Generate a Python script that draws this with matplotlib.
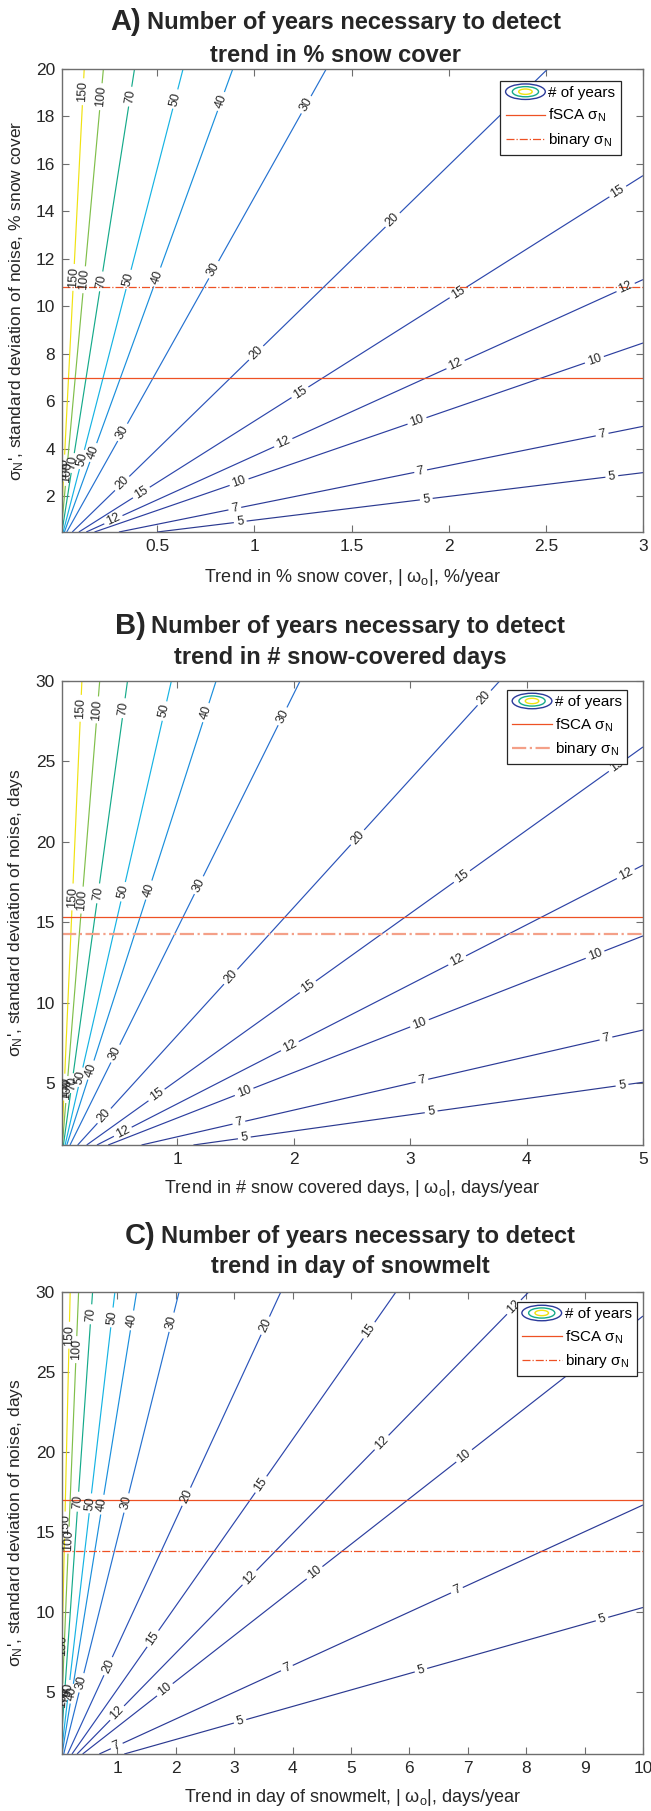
import numpy as np
import matplotlib
matplotlib.use("Agg")
import matplotlib.pyplot as plt
from matplotlib.legend_handler import HandlerBase
from matplotlib.patches import Ellipse
from matplotlib.lines import Line2D

plt.rcParams['font.family'] = ['Liberation Sans', 'DejaVu Sans']
plt.rcParams['mathtext.fontset'] = 'custom'
plt.rcParams['mathtext.rm'] = 'Liberation Sans'
plt.rcParams['mathtext.it'] = 'Liberation Sans'
plt.rcParams['mathtext.bf'] = 'Liberation Sans:bold'

# ---------------- data ----------------
levels = [5, 7, 10, 12, 15, 20, 30, 40, 50, 70, 100, 150]   # number of years
# noise per unit trend (sigma_N / |omega|) along each contour, read per panel
slopes_A = [1.0, 1.65, 2.82, 3.71, 5.17, 7.97, 14.6, 22.5, 31.6, 52.2, 89.7, 161]
slopes_B = [1.01, 1.66, 2.83, 3.71, 5.18, 7.96, 14.6, 22.5, 31.6, 52.4, 89.9, 166]
slopes_C = [1.03, 1.67, 2.85, 3.73, 5.2, 7.9, 14.6, 22.6, 31.4, 52.3, 89.8, 158]
fsca_sigma = [6.98, 15.3, 17.0]
binary_sigma = [10.8, 14.27, 13.85]
xlim_A, ylim_A = (0.01, 3.0), (0.5, 20.0)
xlim_B, ylim_B = (0.01, 5.0), (1.15, 30.0)
xlim_C, ylim_C = (0.05, 10.0), (1.15, 30.0)
xticks_A, yticks_A = [0.5, 1, 1.5, 2, 2.5, 3], [2, 4, 6, 8, 10, 12, 14, 16, 18, 20]
xticks_B, yticks_B = [1, 2, 3, 4, 5], [5, 10, 15, 20, 25, 30]
xticks_C, yticks_C = [1, 2, 3, 4, 5, 6, 7, 8, 9, 10], [5, 10, 15, 20, 25, 30]

# ---------------- styles ----------------
line_colors = ['#2b3990', '#2b3a97', '#2c3e9f', '#2c41a4', '#2d46ab', '#2b53b9',
               '#2571d0', '#1a8fdc', '#16b3e3', '#15aa8a', '#80bf4a', '#f0e210']
red = '#ee5124'
salmon = '#f4a088'

# label anchor points (x, y) per level for each panel
labels_A = {
    5: [(0.928, 0.876), (1.885, 1.86), (2.84, 2.81)],
    7: [(0.90, 1.46), (1.856, 3.05), (2.79, 4.59)],
    10: [(0.92, 2.63), (1.84, 5.11), (2.75, 7.75)],
    12: [(0.275, 1.01), (1.15, 4.24), (2.036, 7.54), (2.91, 10.81)],
    15: [(0.42, 2.14), (1.237, 6.35), (2.045, 10.63), (2.87, 14.84)],
    20: [(0.326, 2.49), (1.01, 8.03), (1.72, 13.57)],
    30: [(0.33, 4.66), (0.79, 11.55), (1.27, 18.48)],
    40: [(0.18, 3.82), (0.507, 11.22), (0.833, 18.62)],
    50: [(0.12, 3.54), (0.36, 11.12), (0.60, 18.72)],
    70: [(0.07, 3.4), (0.215, 11.05), (0.366, 18.83)],
    100: [(0.045, 3.0), (0.129, 11.12), (0.215, 18.83)],
    150: [(0.03, 3.19), (0.077, 11.22), (0.124, 19.04)],
}
labels_B = {
    5: [(1.575, 1.64), (3.18, 3.24), (4.82, 4.86)],
    7: [(1.526, 2.64), (3.1, 5.17), (4.68, 7.83)],
    10: [(1.575, 4.44), (3.08, 8.73), (4.59, 12.95)],
    12: [(0.526, 2.06), (1.963, 7.35), (3.4, 12.68), (4.85, 18.03)],
    15: [(0.814, 4.34), (2.12, 11.0), (3.443, 17.86), (4.78, 24.7)],
    20: [(0.368, 2.99), (1.46, 11.6), (2.552, 20.25), (3.644, 28.9)],
    30: [(0.469, 6.83), (1.187, 17.3), (1.905, 27.8)],
    40: [(0.267, 5.79), (0.756, 17.0), (1.259, 28.0)],
    50: [(0.167, 5.37), (0.54, 16.89), (0.909, 28.1)],
    70: [(0.09, 5.0), (0.325, 16.79), (0.549, 28.3)],
    100: [(0.05, 4.6), (0.196, 16.37), (0.319, 28.2)],
    150: [(0.03, 4.75), (0.109, 16.57), (0.181, 28.3)],
}
labels_C = {
    5: [(3.1, 3.19), (6.2, 6.35), (9.3, 9.55)],
    7: [(0.99, 1.63), (3.9, 6.52), (6.81, 11.4)],
    10: [(1.789, 5.27), (4.36, 12.54), (6.93, 19.8), (9.5, 27.1)],
    12: [(0.962, 3.82), (3.27, 12.13), (5.58, 20.4), (7.89, 28.7)],
    15: [(1.59, 8.39), (3.47, 17.95), (5.35, 27.5)],
    20: [(0.848, 6.62), (2.19, 17.2), (3.53, 27.9)],
    30: [(0.39, 5.59), (1.18, 16.8), (1.94, 28.1)],
    40: [(0.25, 4.9), (0.774, 16.7), (1.293, 28.2)],
    50: [(0.136, 5.17), (0.546, 16.8), (0.933, 28.4)],
    70: [(0.1, 4.8), (0.346, 16.9), (0.574, 28.6)],
    100: [(0.07, 4.7), (0.192, 14.5), (0.317, 26.4)],
    150: [(0.06, 4.6), (0.136, 15.45), (0.192, 27.3)],
}

W, H = 651, 1811
fig = plt.figure(figsize=(W / 100, H / 100), dpi=100)


class ContourIcon:
    pass


class ContourIconHandler(HandlerBase):
    def create_artists(self, legend, orig_handle, xdescent, ydescent, width,
                       height, fontsize, trans):
        cx = width / 2 - xdescent
        cy = height / 2 - ydescent
        arts = []
        for fw, fh, c in [(1.0, 1.45, '#2b3a9a'), (0.66, 0.95, '#15aa8a'),
                          (0.34, 0.5, '#f0e210')]:
            arts.append(Ellipse((cx, cy), width * fw, height * fh, fill=False,
                                edgecolor=c, linewidth=1.0, transform=trans))
        return arts


panels = [
    dict(box=(62, 69, 643, 532), xlim=xlim_A, ylim=ylim_A, xt=xticks_A, yt=yticks_A,
         slopes=slopes_A, labels=labels_A, fsca=fsca_sigma[0], binary=binary_sigma[0],
         bcol=red, blw=0.9, prefix='A)', t1='Number of years necessary to detect',
         t2='trend in % snow cover', tcx=336, tb1=29.5, tb2=61.5,
         xlabel='Trend in % snow cover, | ω$_{\\mathrm{o}}$|, %/year',
         ylabel="σ$_{\\mathrm{N}}$', standard deviation of noise, % snow cover",
         xly=577, yly=16.5, leg=(620.7, 80.7)),
    dict(box=(62, 681, 643, 1145), xlim=xlim_B, ylim=ylim_B, xt=xticks_B, yt=yticks_B,
         slopes=slopes_B, labels=labels_B, fsca=fsca_sigma[1], binary=binary_sigma[1],
         bcol=salmon, blw=1.6, prefix='B)', t1='Number of years necessary to detect',
         t2='trend in # snow-covered days', tcx=340, tb1=633.5, tb2=664,
         xlabel='Trend in # snow covered days, | ω$_{\\mathrm{o}}$|, days/year',
         ylabel="σ$_{\\mathrm{N}}$', standard deviation of noise, days",
         xly=1188.5, yly=15.5, leg=(627.3, 690)),
    dict(box=(62, 1292, 643, 1754), xlim=xlim_C, ylim=ylim_C, xt=xticks_C, yt=yticks_C,
         slopes=slopes_C, labels=labels_C, fsca=fsca_sigma[2], binary=binary_sigma[2],
         bcol=red, blw=0.9, prefix='C)', t1='Number of years necessary to detect',
         t2='trend in day of snowmelt', tcx=350, tb1=1243.5, tb2=1273.5,
         xlabel='Trend in day of snowmelt, | ω$_{\\mathrm{o}}$|, days/year',
         ylabel="σ$_{\\mathrm{N}}$', standard deviation of noise, days",
         xly=1797, yly=15.5, leg=(637, 1302)),
]

renderer = fig.canvas.get_renderer()
axis_col = '#6e6e6e'
text_col = '#262626'

for p in panels:
    l, t, r, b = p['box']
    ax = fig.add_axes([l / W, 1 - b / H, (r - l) / W, (b - t) / H])
    x0, x1 = p['xlim']
    y0, y1 = p['ylim']
    xs = np.linspace(x0, x1, 700)
    ys = np.linspace(y0, y1, 700)
    X, Y = np.meshgrid(xs, ys)
    R = Y / X
    for lev, s, col in zip(levels, p['slopes'], line_colors):
        cs = ax.contour(X, Y, R, levels=[s], colors=[col], linewidths=0.85)
        pos = p['labels'].get(lev, [])
        if pos:
            ax.clabel(cs, levels=[s], fmt={s: str(lev)}, manual=pos, inline=True,
                      inline_spacing=3, fontsize=9, colors=text_col)
    ax.axhline(p['fsca'], color=red, lw=0.9, ls='-')
    ax.axhline(p['binary'], color=p['bcol'], lw=p['blw'], ls='-.')
    ax.set_xlim(x0, x1)
    ax.set_ylim(y0, y1)
    ax.set_xticks(p['xt'])
    ax.set_yticks(p['yt'])
    ax.set_xticklabels([('%g' % v) for v in p['xt']])
    ax.set_yticklabels([('%g' % v) for v in p['yt']])
    ax.tick_params(direction='in', length=5, width=0.8, color=axis_col,
                   labelsize=12.5, labelcolor=text_col, top=True, right=True, pad=5)
    for sp in ax.spines.values():
        sp.set_color(axis_col)
        sp.set_linewidth(1.0)
    ax.set_xlabel(p['xlabel'], fontsize=13, color=text_col)
    ax.set_ylabel(p['ylabel'], fontsize=12.5, color=text_col)
    ax.xaxis.label.set_va('center')
    ax.yaxis.label.set_va('center')
    ax.xaxis.set_label_coords(0.5, (b - p['xly']) / (b - t))
    ax.yaxis.set_label_coords((p['yly'] - l) / (r - l), 0.5)

    # legend
    handles = [ContourIcon(), Line2D([], [], color=red, lw=0.9, ls='-'),
               Line2D([], [], color=p['bcol'], lw=p['blw'], ls='-.')]
    names = ['# of years', 'fSCA σ$_{\\mathrm{N}}$', 'binary σ$_{\\mathrm{N}}$']
    lx, ly = p['leg']
    leg = ax.legend(handles, names, handler_map={ContourIcon: ContourIconHandler()},
                    loc='upper right', bbox_to_anchor=((lx - l) / (r - l), (b - ly) / (b - t)),
                    borderaxespad=0, fontsize=11, handlelength=2.6, handletextpad=0.2,
                    borderpad=0.35, labelspacing=0.45, fancybox=False, framealpha=1,
                    edgecolor=text_col)
    leg.get_frame().set_linewidth(0.9)

    # title
    tp = fig.text(0, 0, p['prefix'], fontsize=21, fontweight='bold', color=text_col,
                  ha='left', va='baseline')
    t1 = fig.text(0, 0, p['t1'], fontsize=17, fontweight='bold', color=text_col,
                  ha='left', va='baseline')
    wp = tp.get_window_extent(renderer).width
    w1 = t1.get_window_extent(renderer).width
    gap = 6
    xs0 = p['tcx'] - (wp + gap + w1) / 2
    tp.set_position((xs0 / W, 1 - p['tb1'] / H))
    t1.set_position(((xs0 + wp + gap) / W, 1 - p['tb1'] / H))
    fig.text(p['tcx'] / W, 1 - p['tb2'] / H, p['t2'], fontsize=17, fontweight='bold',
             color=text_col, ha='center', va='baseline')

fig.savefig('out.png', dpi=100)
